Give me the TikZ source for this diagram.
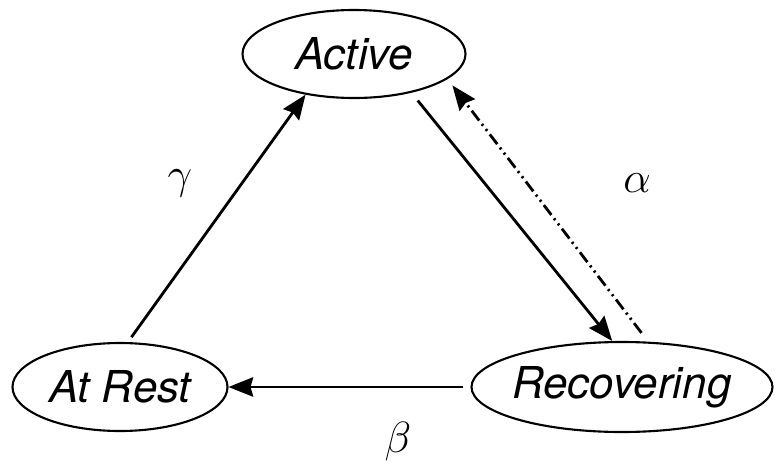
\documentclass[tikz,border=0pt]{standalone}
\usepackage{fontspec}
\newfontfamily\heros{TeX Gyre Heros}
\usetikzlibrary{shapes.geometric,arrows.meta}
\begin{document}
\begin{tikzpicture}[
 state/.style={ellipse,draw,line width=1.2pt,inner sep=0pt,font=\heros\itshape\fontsize{25}{30}\selectfont},
 trans/.style={line width=1.6pt,-{Stealth[length=14pt,width=11pt,inset=1.5pt]}},
 back/.style={trans,dash pattern=on 7pt off 2.5pt on 1.2pt off 2.5pt on 1.2pt off 2.5pt},
 rate/.style={font=\fontsize{27}{32}\selectfont}]
\useasboundingbox (0,0) rectangle (15.5,9.34);
\node[state,minimum width=4.46cm,minimum height=1.76cm] (active) at (7.08,8.26) {\makebox[0pt]{Active}};
\node[state,minimum width=4.3cm,minimum height=1.76cm] (rest) at (2.40,1.60) {\makebox[0pt]{At Rest}};
\node[state,minimum width=6.02cm,minimum height=1.8cm] (rec) at (12.44,1.60) {\makebox[0pt]{Recovering}};
\draw[trans,shorten <=0.12cm] (rest.80.9) -- (active.220);
\draw[trans,shorten <=0.2cm] (active.-34.9) -- (rec.102);
\draw[back,shorten <=0.22cm,shorten >=0.16cm] (rec.60.9) -- (active.-15.9);
\draw[trans,shorten <=0.14cm] (rec.west) -- (rest.east);
\node[rate] (g) at (3.6,5.68) {$\gamma$};
\node[rate] (a) at (12.74,5.68) {$\alpha$};
\node[rate] (b) at (7.96,0.50) {$\beta$};
\end{tikzpicture}
\end{document}
